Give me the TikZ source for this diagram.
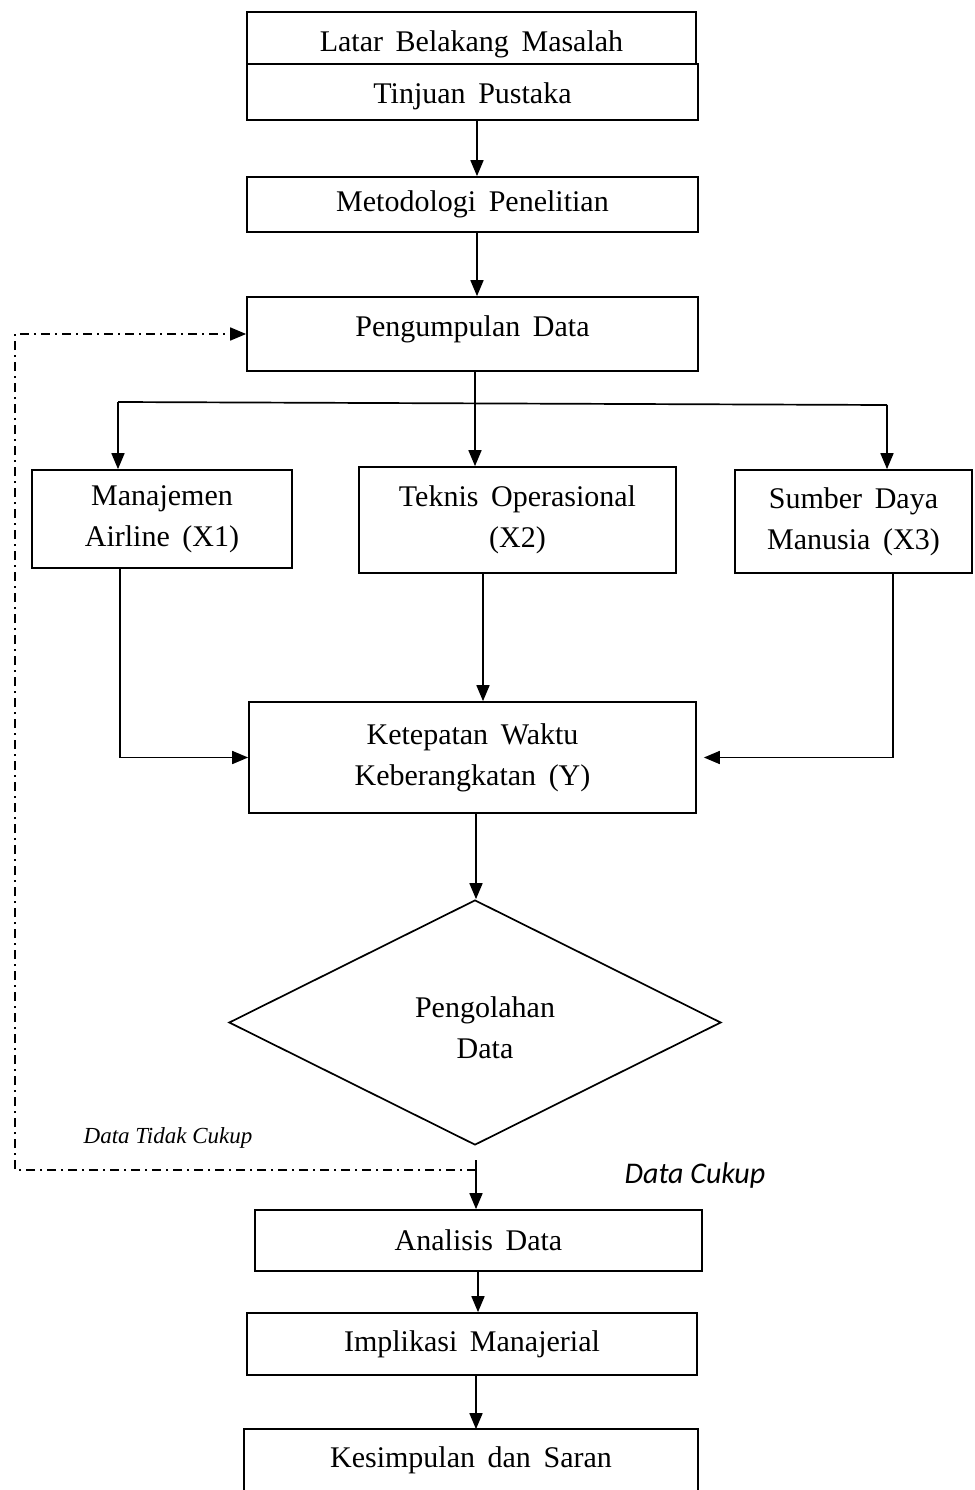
\documentclass[tikz,border=0pt]{standalone}
\usepackage{fontspec}
\setmainfont{Liberation Serif}
\newfontfamily\calibrifont{Carlito}
\usetikzlibrary{shapes.geometric,arrows.meta,calc}
\newcommand\boxfont{\fontsize{30}{41}\selectfont\spaceskip=0.42em plus 0.1em minus 0.05em\relax}
\tikzset{
 box/.style={draw, line width=1.7pt, inner sep=0pt, align=center, font=\boxfont},
 arr/.style={line width=1.7pt, -{Triangle[length=16pt,width=13pt]}},
 ln/.style={line width=1.7pt},
 dd/.style={line width=1.6pt, dash pattern=on 9pt off 5pt on 2pt off 5pt},
}
\begin{document}
\begin{tikzpicture}[x=1pt,y=-1pt]
\useasboundingbox (0,0) rectangle (974,1490);
\node[box, minimum width=449pt, minimum height=52pt, text height=33pt] (lat) at (471.5,38) {Latar Belakang Masalah};
\node[box, minimum width=451pt, minimum height=56pt, text height=28.5pt] (tin) at (472.5,92) {Tinjuan Pustaka};
\node[box, minimum width=451pt, minimum height=55pt] (met) at (472.5,204.5) {Metodologi Penelitian};
\node[box, minimum width=451pt, minimum height=74pt, text depth=16.6pt] (peng) at (472.5,334) {Pengumpulan Data};
\node[box, minimum width=260pt, minimum height=98pt] (man) at (162,519) {Manajemen\\Airline (X1)};
\node[box, minimum width=317pt, minimum height=106pt] (tek) at (517.5,520) {Teknis Operasional\\(X2)};
\node[box, minimum width=237pt, minimum height=103pt] (sdm) at (853.5,521.5) {Sumber Daya\\Manusia (X3)};
\node[box, minimum width=447pt, minimum height=111pt] (ket) at (472.5,757.5) {Ketepatan Waktu\\Keberangkatan (Y)};
\node[draw, diamond, line width=1.7pt, minimum width=492pt, minimum height=245pt, inner sep=0pt] (dia) at (475,1022.5) {};
\node[font=\boxfont, align=center, inner sep=0pt] (diatxt) at (485,1028) {Pengolahan\\Data};
\node[box, minimum width=447pt, minimum height=61pt] (ana) at (478.5,1240.5) {Analisis Data};
\node[box, minimum width=450pt, minimum height=62pt] (imp) at (472,1344) {Implikasi Manajerial};
\node[box, draw=none, minimum width=452pt, minimum height=60pt] (kes) at (471,1460) {Kesimpulan dan Saran};
\draw[ln] (kes.south west) -- (kes.north west) -- (kes.north east) -- (kes.south east);

\draw[arr] ([xshift=4.5pt]tin.south) -- ([xshift=4.5pt]met.north);
\draw[arr] ([xshift=4.5pt]met.south) -- ([xshift=4.5pt]peng.north);
\draw[arr] ([xshift=2.5pt]peng.south) -- ([xshift=2.5pt]peng.south |- tek.north);
\coordinate (bl) at (118,402);
\coordinate (br) at (887,405);
\draw[ln] (bl) -- (br);
\draw[arr] (bl) -- (bl |- man.north);
\draw[arr] (br) -- (br |- sdm.north);
\draw[arr] ([xshift=-42pt]man.south) |- (ket.west);
\draw[arr] ([xshift=-34.5pt]tek.south) -- ([xshift=-34.5pt]tek.south |- ket.north);
\draw[arr] ([xshift=39.5pt]sdm.south) |- ([xshift=7pt]ket.east);
\draw[arr] ([xshift=3.5pt]ket.south) -- ([xshift=3.5pt]ket.south |- dia.north);
\coordinate (dc) at (476,1160);
\draw[arr] (dc) -- (dc |- ana.north);
\coordinate (dr) at (476,1170);
\coordinate (dl) at (15,1170);
\draw[dd, -{Triangle[length=16pt,width=13pt]}] (dr) -- (dl) |- (peng.west);
\draw[arr] ([xshift=-0.5pt]ana.south) -- ([xshift=-0.5pt]ana.south |- imp.north);
\draw[arr] ([xshift=4pt]imp.south) -- ([xshift=4pt]imp.south |- kes.north);

\node[font=\fontsize{23}{26}\selectfont\itshape] (dtc) at (168,1138) {Data Tidak Cukup};
\node[font=\calibrifont\fontsize{30}{34}\selectfont\itshape] (dcu) at (695,1175) {Data Cukup};
\end{tikzpicture}
\end{document}
